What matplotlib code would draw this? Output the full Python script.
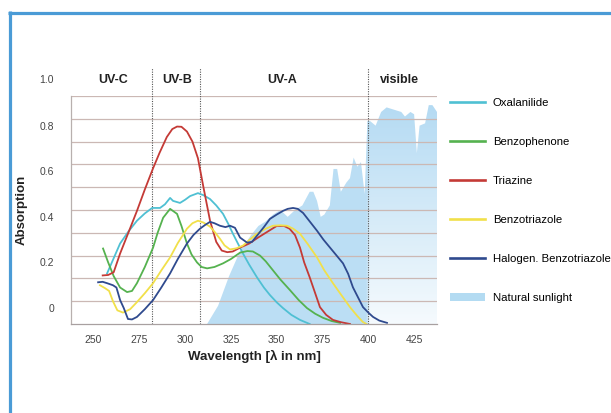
import matplotlib
matplotlib.use("Agg")
import matplotlib.pyplot as plt
from matplotlib.lines import Line2D
from matplotlib.patches import Patch
import numpy as np

plt.rcParams['font.family'] = ['Liberation Sans', 'DejaVu Sans']

# ---------------- data ----------------
x_ticks = [250, 275, 300, 325, 350, 375, 400, 425]
y_ticks = [0, 0.2, 0.4, 0.6, 0.8]
y_tick_labels = ['0', '0.2', '0.4', '0.6', '0.8']
top_label = '1.0'

band_edges = [282, 308, 400]
band_names = ['UV-C', 'UV-B', 'UV-A', 'visible']
band_centers = [260.6, 295.6, 353, 417]

series_names = ['Oxalanilide', 'Benzophenone', 'Triazine', 'Benzotriazole',
                'Halogen. Benzotriazole']
series_colors = ['#4fc0d3', '#55b24f', '#c43a36', '#f1e04a', '#2f4a8e']

oxa_wl = [257.4, 260, 264.5, 269, 273.7, 278, 282, 286.3, 289, 291.8, 293.4, 297.2, 300, 302.7, 307,
          310, 313.6, 317, 320.7, 323.5, 326.1, 331.6, 335, 339.2, 343, 346.3, 350, 353.4, 358, 362.7, 368]
oxa_abs = [0.152, 0.2, 0.283, 0.335, 0.383, 0.415, 0.439, 0.439, 0.455, 0.483, 0.47, 0.461, 0.475, 0.491, 0.504,
           0.495, 0.478, 0.45, 0.413, 0.37, 0.326, 0.239, 0.19, 0.135, 0.09, 0.057, 0.025, 0.0, -0.03, -0.052, -0.07]

benzo_wl = [255.2, 258, 261, 264.5, 268.3, 271, 273.7, 278, 282.5, 285, 288, 291.8, 295.6, 298, 301,
            303.5, 306.5, 309, 312, 316, 320.7, 325, 330, 334, 337, 340.9, 344, 348, 352, 357.3,
            362, 366.5, 371, 375.3, 380, 384.6]
benzo_abs = [0.261, 0.2, 0.14, 0.09, 0.07, 0.075, 0.109, 0.18, 0.265, 0.33, 0.396, 0.435, 0.413, 0.36, 0.283,
             0.235, 0.2, 0.18, 0.174, 0.18, 0.196, 0.215, 0.243, 0.25, 0.248, 0.23, 0.205, 0.165, 0.125, 0.078,
             0.035, 0.0, -0.025, -0.043, -0.057, -0.065]

tri_wl = [255, 258, 261, 264.5, 269, 273.7, 278, 282.5, 286, 290, 293, 295.6, 298, 301, 304, 307, 310,
          313.6, 317, 320, 323, 326, 330, 335, 340, 345, 350, 354, 357, 360, 362.7, 365, 368, 371,
          373.6, 377, 380.7, 385, 390]
tri_abs = [0.143, 0.145, 0.157, 0.239, 0.33, 0.426, 0.52, 0.613, 0.68, 0.75, 0.785, 0.796, 0.795, 0.774,
           0.73, 0.657, 0.53, 0.383, 0.29, 0.252, 0.245, 0.248, 0.265, 0.283, 0.31, 0.335, 0.36, 0.36,
           0.348, 0.32, 0.265, 0.2, 0.135, 0.065, 0.004, -0.03, -0.052, -0.062, -0.07]

btz_wl = [253.5, 256.3, 258.5, 260.6, 263, 266.1, 270, 273.7, 278, 282.5, 287, 291.8, 296, 301, 304,
          307, 310, 313.6, 316, 319, 321.5, 324.5, 328, 331.6, 335, 339.2, 344, 348, 352, 355.6,
          359, 362.7, 367, 372, 376, 380.7, 385, 390, 394, 397, 399.8]
btz_abs = [0.1, 0.087, 0.075, 0.03, -0.01, -0.02, -0.005, 0.026, 0.065, 0.109, 0.165, 0.222, 0.285, 0.348,
           0.372, 0.383, 0.375, 0.357, 0.335, 0.304, 0.275, 0.257, 0.262, 0.274, 0.298, 0.326, 0.348, 0.361,
           0.363, 0.361, 0.348, 0.326, 0.28, 0.222, 0.165, 0.109, 0.06, 0.004, -0.035, -0.061, -0.074]

hbtz_wl = [252.5, 255, 257.4, 260.6, 262.5, 264.5, 266.5, 268.8, 271, 273.7, 278, 282.5, 287, 291.8, 296,
           301, 304.5, 308.1, 311, 313.6, 316, 319, 322, 324.5, 327.2, 330, 333.8, 336.5, 339.2, 343,
           346.3, 350, 353.4, 356, 358.9, 361.5, 364.4, 368, 372, 375.5, 379.1, 382.5, 386.2, 389, 391.6,
           394.5, 397.1, 400, 402.6, 406, 410.2]
hbtz_abs = [0.113, 0.115, 0.109, 0.1, 0.09, 0.035, 0.0, -0.048, -0.05, -0.039, -0.005, 0.035, 0.09, 0.152,
            0.215, 0.283, 0.32, 0.348, 0.365, 0.378, 0.372, 0.361, 0.355, 0.361, 0.352, 0.309, 0.287, 0.29,
            0.317, 0.355, 0.391, 0.41, 0.426, 0.435, 0.439, 0.435, 0.417, 0.38, 0.339, 0.3, 0.265, 0.232,
            0.196, 0.15, 0.091, 0.045, 0.004, -0.02, -0.039, -0.055, -0.065]

sun_wl = [312, 318, 324, 330, 336, 340, 344, 348, 352, 356, 360, 364, 368, 370, 372, 374, 376, 379, 381,
          383, 385, 388, 390, 392, 394, 396, 398, 399.5, 401, 404, 407, 410, 414, 418, 420, 423, 425,
          426.5, 428, 431, 433, 435, 437.5]
sun_abs = [-0.07, 0.01, 0.14, 0.25, 0.32, 0.36, 0.38, 0.41, 0.43, 0.40, 0.43, 0.45, 0.51, 0.51, 0.47, 0.40,
           0.41, 0.45, 0.61, 0.61, 0.51, 0.55, 0.57, 0.66, 0.62, 0.64, 0.5, 0.82, 0.82, 0.80, 0.86, 0.88,
           0.87, 0.86, 0.84, 0.86, 0.85, 0.68, 0.80, 0.81, 0.89, 0.89, 0.86]
sun_label = 'Natural sunlight'

series_wl = [oxa_wl, benzo_wl, tri_wl, btz_wl, hbtz_wl]
series_abs = [oxa_abs, benzo_abs, tri_abs, btz_abs, hbtz_abs]

# ---------------- figure ----------------
W, H = 611, 413
fig = plt.figure(figsize=(W / 100, H / 100), dpi=100)
fig.patch.set_facecolor('white')

XLIM = (237.7, 437.5)
YLIM = (-0.07, 0.93)
ax = fig.add_axes([71 / W, 1 - 324 / H, (437 - 71) / W, (324 - 96) / H])
ax.set_facecolor('none')

# sunlight: gradient image clipped to the filled spectrum
sun_color = '#b3dbf2'
poly = ax.fill_between(sun_wl, YLIM[0], sun_abs, facecolor='none', lw=0, zorder=0.2)
nx, ny = 400, 200
gx = np.linspace(XLIM[0], XLIM[1], nx)
gy = np.linspace(YLIM[0], YLIM[1], ny)
GX, GY = np.meshgrid(gx, gy)
base = np.array([0.69, 0.85, 0.95])
frac = (GY - YLIM[0]) / (YLIM[1] - YLIM[0])
vis = np.clip((GX - 399) / 2.0, 0, 1)
alpha = (1 - vis) * 0.85 + vis * (0.12 + 0.85 * frac)
rgba = np.zeros((ny, nx, 4))
rgba[..., :3] = base
rgba[..., 3] = alpha
im = ax.imshow(rgba, extent=[XLIM[0], XLIM[1], YLIM[0], YLIM[1]], origin='lower',
               aspect='auto', zorder=0.2, interpolation='bilinear')
im.set_clip_path(poly.get_paths()[0], transform=ax.transData)

ax.set_xlim(*XLIM)
ax.set_ylim(*YLIM)

# grid lines (minor ticks)
grid_vals = [-0.07 + 0.1 * k for k in range(1, 11)]
ax.set_yticks(grid_vals, minor=True)
ax.set_yticks(y_ticks)
ax.set_yticklabels(y_tick_labels)
ax.grid(True, which='minor', axis='y', color='#cbb8b4', lw=0.9)
ax.grid(False, which='major')
ax.set_axisbelow(True)
ax.tick_params(axis='y', which='both', length=0, pad=12, labelsize=7.5, labelcolor='#444444')
ax.set_xticks(x_ticks)
ax.tick_params(axis='x', length=0, pad=8, labelsize=7.5, labelcolor='#444444')

for s in ['top', 'right']:
    ax.spines[s].set_visible(False)
ax.spines['left'].set_color('#b8b0ae')
ax.spines['bottom'].set_color('#a8a0a0')
ax.spines['left'].set_linewidth(0.9)
ax.spines['bottom'].set_linewidth(0.9)

# 1.0 label (outside y range)
ax.text(-(12 * 1.389 + 0.5) / 366, 1.0, top_label, transform=ax.get_yaxis_transform(),
        ha='right', va='center', fontsize=7.5, color='#444444', clip_on=False)

# band dividers and names
for e in band_edges:
    ax.axvline(e, ymin=0, ymax=1.123, color='#555555', lw=0.8, ls=(0, (1, 1.2)),
               clip_on=False, zorder=1.2)
for name, c in zip(band_names, band_centers):
    ax.text(c, 1.0, name, ha='center', va='center', fontsize=9, fontweight='bold',
            color='#222222', clip_on=False)

# curves
for wl, ab, col in zip(series_wl, series_abs, series_colors):
    ax.plot(wl, ab, color=col, lw=1.3, zorder=2, solid_joinstyle='round')

# axis labels
ax.set_ylabel('Absorption', fontsize=9.5, fontweight='bold', color='#222222')
ax.yaxis.set_label_coords((28 - 71) / 366, 0.5)
ax.set_xlabel('Wavelength [λ in nm]', fontsize=9.5, fontweight='bold', color='#222222')
ax.xaxis.label.set_va('center')
ax.xaxis.set_label_coords((254 - 71) / 366, (324 - 356) / 228)

# legend
handles = [Line2D([0], [0], color=c, lw=1.9) for c in series_colors]
handles.append(Patch(facecolor=sun_color, edgecolor='none'))
labels = series_names + [sun_label]
fig.legend(handles, labels, loc='upper left', bbox_to_anchor=(450 / W, 1 - 97.5 / H),
           frameon=False, fontsize=8.2, labelspacing=2.56, handlelength=3.07,
           handletextpad=0.70, borderpad=0, borderaxespad=0)

# blue frame
frame_color = '#4a9bd6'
fig.add_artist(Line2D([9.5 / W, 9.5 / W], [0, 1 - 11 / H], transform=fig.transFigure,
                      color=frame_color, lw=2.3, solid_capstyle='butt'))
fig.add_artist(Line2D([8 / W, 1], [1 - 12.5 / H, 1 - 12.5 / H], transform=fig.transFigure,
                      color=frame_color, lw=2.3, solid_capstyle='butt'))

fig.savefig('out.png', dpi=100)
